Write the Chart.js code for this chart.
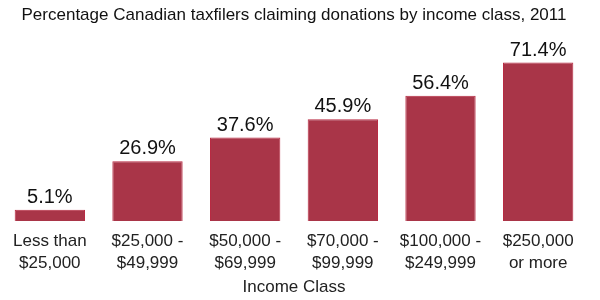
<!DOCTYPE html>
<html><head><meta charset="utf-8">
<script src="https://cdn.jsdelivr.net/npm/chart.js@4"></script>
<style>html,body{margin:0;padding:0;background:#fff}#w{width:600px;height:300px}</style>
</head><body><div id="w"><canvas id="c"></canvas></div>
<script>
const categories = [["Less than","$25,000"],["$25,000 -","$49,999"],["$50,000 -","$69,999"],["$70,000 -","$99,999"],["$100,000 -","$249,999"],["$250,000","or more"]];
const values = [5.1, 26.9, 37.6, 45.9, 56.4, 71.4];
const titleText = "Percentage Canadian taxfilers claiming donations by income class, 2011";
const axisTitle = "Income Class";

const labelPlugin = {
  id: 'vlabels',
  afterDatasetsDraw(chart) {
    const ctx = chart.ctx;
    const meta = chart.getDatasetMeta(0);
    ctx.save();
    ctx.font = '20px "Liberation Sans", Arial, sans-serif';
    ctx.fillStyle = '#111';
    ctx.textAlign = 'center';
    ctx.textBaseline = 'alphabetic';
    meta.data.forEach((bar, i) => {
      ctx.fillText(values[i].toFixed(1) + '%', bar.x, bar.y - 7);
    });
    ctx.restore();
  }
};

new Chart(document.getElementById('c'), {
  type: 'bar',
  data: {
    labels: categories,
    datasets: [{
      data: values,
      backgroundColor: '#A93548',
      borderColor: '#B82A42',
      borderWidth: 1,
      barPercentage: 0.72,
      categoryPercentage: 1.0
    }]
  },
  options: {
    responsive: true,
    maintainAspectRatio: false,
    animation: false,
    layout: { padding: { left: 1, right: 13, top: 0, bottom: 0 } },
    plugins: {
      legend: { display: false },
      tooltip: { enabled: false },
      title: {
        display: true,
        text: titleText,
        color: '#111',
        font: { family: '"Liberation Sans", Arial, sans-serif', size: 17, weight: 'normal', lineHeight: 1.2 },
        padding: { top: 5, bottom: 18 }
      }
    },
    scales: {
      x: {
        grid: { display: false, drawTicks: false },
        border: { display: false },
        ticks: {
          color: '#222',
          font: { family: '"Liberation Sans", Arial, sans-serif', size: 17, lineHeight: 1.25 },
          padding: 10,
          maxRotation: 0,
          autoSkip: false
        },
        title: {
          display: true,
          text: axisTitle,
          color: '#222',
          font: { family: '"Liberation Sans", Arial, sans-serif', size: 17, lineHeight: 1.2 },
          padding: { top: -6, bottom: 2 }
        }
      },
      y: {
        display: false,
        min: 0,
        max: 80
      }
    }
  },
  plugins: [labelPlugin]
});
</script>
</body></html>
